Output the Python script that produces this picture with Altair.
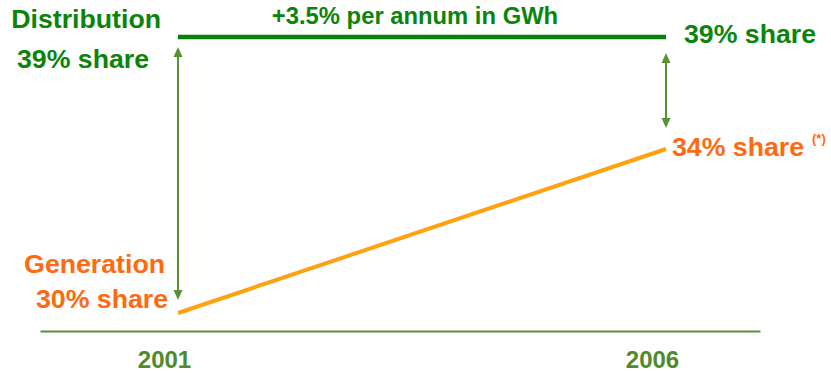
import altair as alt
import pandas as pd

# --- values -------------------------------------------------------------
years = [2001, 2006]
distribution_share = [39, 39]      # distribution share (%), flat line
generation_share = [30, 34]        # generation share (%)
growth_label = "+3.5% per annum in GWh"
year_ticks = [2001, 2006]

# --- colours / fonts ------------------------------------------------------
DIST_GREEN = "#0A840A"
GEN_ORANGE_TEXT = "#FF6A10"
GEN_ORANGE_LINE = "#FFA20F"
ARROW_GREEN = "#5A9232"
YEAR_GREEN = "#4F8A2B"
FONT = "Liberation Sans"
LABEL_SIZE = 26.7

dist_df = pd.DataFrame({"year": years, "share": distribution_share})
gen_df = pd.DataFrame({"year": years, "share": generation_share})
mid_df = pd.DataFrame({"year": [sum(years) / 2], "share": [distribution_share[0]]})
arrow_df = pd.DataFrame({
    "year": years,
    "top": distribution_share,
    "bottom": generation_share,
})

# x: years, padded so the baseline runs past both end years
x_scale = alt.Scale(domain=[years[0] - 1.414, years[1] + 0.963], nice=False, zero=False)
# y: schematic piecewise share scale (not to proportion, as in the slide)
y_scale = alt.Scale(domain=[30, 34, 39], range=[313, 149, 37], nice=False, zero=False)

x_enc = alt.X(
    "year:Q",
    scale=x_scale,
    axis=alt.Axis(
        values=year_ticks, format="d", title=None, grid=False, ticks=False,
        domainColor=ARROW_GREEN, domainWidth=2,
        labelFont=FONT, labelFontSize=24, labelFontWeight="bold",
        labelColor=YEAR_GREEN, labelPadding=36, labelBaseline="alphabetic",
        labelOffset=-14,
    ),
)


def y_enc(field="share"):
    return alt.Y(f"{field}:Q", scale=y_scale, axis=None)


# lines
dist_line = alt.Chart(dist_df).mark_line(color="#078007", strokeWidth=4.5).encode(
    x=x_enc, y=y_enc())
gen_line = alt.Chart(gen_df).mark_line(color=GEN_ORANGE_LINE, strokeWidth=4).encode(
    x=x_enc, y=y_enc())

# double-headed arrows between the two series
UP_HEAD = "M0,0L1,2.2L-1,2.2Z"
DOWN_HEAD = "M0,0L1,-2.2L-1,-2.2Z"


def arrow(year, top_gap, bottom_gap):
    d = arrow_df[arrow_df["year"] == year]
    shaft = alt.Chart(d).mark_rule(
        color=ARROW_GREEN, strokeWidth=2,
        yOffset=top_gap + 5, y2Offset=-(bottom_gap + 5),
    ).encode(x=x_enc, y=y_enc("top"), y2="bottom:Q")
    head_up = alt.Chart(d).mark_point(
        shape=UP_HEAD, size=81, filled=True, opacity=1, color=ARROW_GREEN,
        yOffset=top_gap,
    ).encode(x=x_enc, y=y_enc("top"))
    head_down = alt.Chart(d).mark_point(
        shape=DOWN_HEAD, size=81, filled=True, opacity=1, color=ARROW_GREEN,
        yOffset=-bottom_gap,
    ).encode(x=x_enc, y=y_enc("bottom"))
    return [shaft, head_up, head_down]


# text labels
def label(df, text, color, size, align, dx, dy):
    return alt.Chart(df).mark_text(
        text=text, color=color, font=FONT, fontSize=size, fontWeight="bold",
        align=align, baseline="alphabetic", dx=dx, dy=dy,
    ).encode(x=x_enc, y=y_enc())


dist_start = dist_df.iloc[[0]]
dist_end = dist_df.iloc[[1]]
gen_start = gen_df.iloc[[0]]
gen_end = gen_df.iloc[[1]]

labels = [
    label(dist_start, "Distribution", DIST_GREEN, LABEL_SIZE, "right", -17, -9),
    label(dist_start, f"{distribution_share[0]}% share", DIST_GREEN, LABEL_SIZE, "right", -29, 31),
    label(mid_df, growth_label, DIST_GREEN, 23.8, "center", -7, -13),
    label(dist_end, f"{distribution_share[1]}% share", DIST_GREEN, LABEL_SIZE, "left", 18, 6),
    label(gen_end, f"{generation_share[1]}% share", GEN_ORANGE_TEXT, LABEL_SIZE, "left", 6, 7),
    label(gen_end, "(*)", GEN_ORANGE_TEXT, 13, "left", 146, -6),
    label(gen_start, "Generation", GEN_ORANGE_TEXT, LABEL_SIZE, "right", -13, -40),
    label(gen_start, f"{generation_share[0]}% share", GEN_ORANGE_TEXT, LABEL_SIZE, "right", -10, -5),
]

chart = alt.layer(
    dist_line,
    gen_line,
    *arrow(2001, 10, 13),
    *arrow(2006, 16, 21),
    *labels,
).properties(
    width=720,
    height=331,
    autosize=alt.AutoSizeParams(type="none"),
    padding={"left": 40, "top": 0, "right": 71, "bottom": 42},
    background="white",
).configure_view(stroke=None)

chart.save("out.html", embed_options={"renderer": "svg", "actions": False})
